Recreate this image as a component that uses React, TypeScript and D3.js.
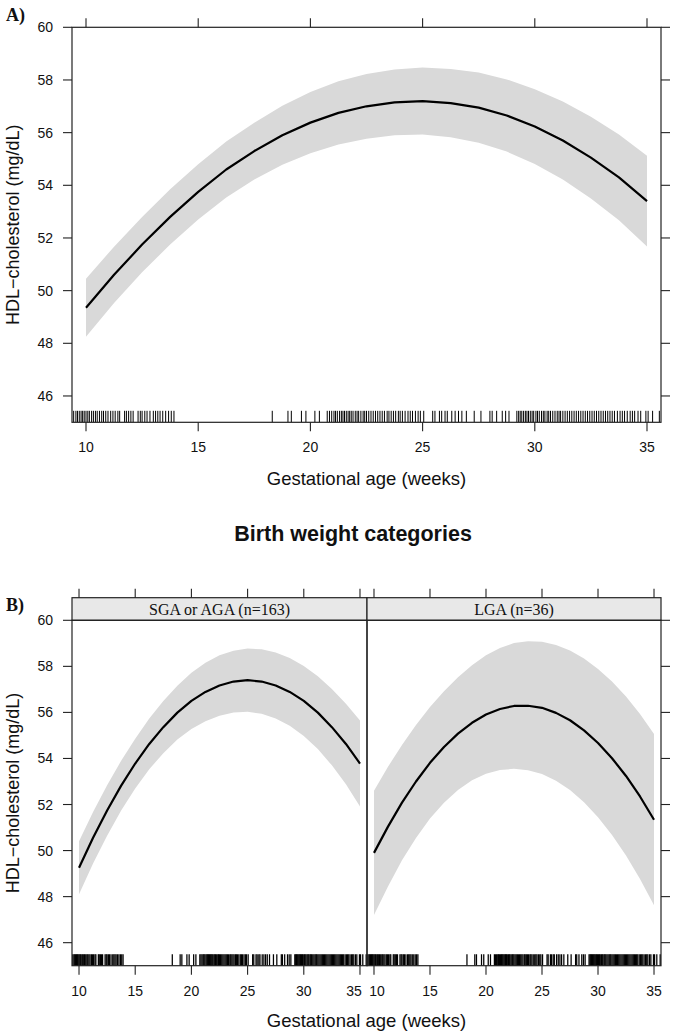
import React from 'react';
import * as d3 from 'd3';

const ageGrid = [10, 11.25, 12.5, 13.75, 15, 16.25, 17.5, 18.75, 20, 21.25, 22.5, 23.75, 25, 26.25, 27.5, 28.75, 30, 31.25, 32.5, 33.75, 35];

// Panel A: all subjects
const fitAll = [49.35, 50.6, 51.75, 52.8, 53.75, 54.6, 55.3, 55.9, 56.38, 56.75, 57.0, 57.15, 57.2, 57.12, 56.95, 56.65, 56.23, 55.7, 55.05, 54.3, 53.4];
const upAll = [50.45, 51.67, 52.8, 53.85, 54.8, 55.66, 56.38, 57.02, 57.54, 57.95, 58.23, 58.4, 58.47, 58.42, 58.28, 58.02, 57.65, 57.18, 56.6, 55.93, 55.12];
const loAll = [48.25, 49.53, 50.7, 51.75, 52.7, 53.54, 54.22, 54.78, 55.22, 55.55, 55.77, 55.9, 55.93, 55.82, 55.62, 55.28, 54.81, 54.22, 53.5, 52.67, 51.68];

// Panel B: SGA or AGA
const fitSGA = [49.25, 50.56, 51.74, 52.82, 53.78, 54.63, 55.36, 55.99, 56.5, 56.89, 57.17, 57.34, 57.4, 57.34, 57.17, 56.89, 56.5, 55.99, 55.36, 54.63, 53.78];
const upSGA = [50.4, 51.68, 52.84, 53.9, 54.86, 55.73, 56.49, 57.16, 57.72, 58.16, 58.48, 58.68, 58.77, 58.74, 58.6, 58.36, 58.02, 57.57, 57.02, 56.38, 55.65];
const loSGA = [48.1, 49.44, 50.64, 51.74, 52.7, 53.53, 54.23, 54.82, 55.28, 55.62, 55.86, 56.0, 56.03, 55.94, 55.74, 55.42, 54.98, 54.41, 53.7, 52.88, 51.91];

// Panel B: LGA
const fitLGA = [49.9, 51.04, 52.08, 53.0, 53.81, 54.5, 55.08, 55.55, 55.91, 56.15, 56.28, 56.29, 56.2, 55.98, 55.66, 55.22, 54.67, 54.01, 53.24, 52.35, 51.34];
const upLGA = [52.6, 53.64, 54.58, 55.45, 56.23, 56.92, 57.53, 58.05, 58.48, 58.8, 59.01, 59.09, 59.07, 58.93, 58.69, 58.34, 57.89, 57.34, 56.69, 55.93, 55.06];
const loLGA = [47.2, 48.44, 49.58, 50.55, 51.39, 52.08, 52.63, 53.05, 53.34, 53.5, 53.55, 53.49, 53.33, 53.03, 52.63, 52.1, 51.45, 50.68, 49.79, 48.77, 47.62];

const rugAges = [
  9.45, 9.55, 9.62, 9.7, 9.78, 9.85, 9.92, 10.0, 10.08, 10.15, 10.25, 10.33, 10.42, 10.5, 10.6, 10.7, 10.78, 10.88, 10.98, 11.1, 11.2, 11.3, 11.42, 11.5,
  11.72, 11.8, 11.9, 12.0, 12.1, 12.32, 12.42, 12.5, 12.62, 12.72, 12.85, 13.0, 13.1, 13.2, 13.3, 13.42, 13.55, 13.68, 13.8, 13.92,
  18.3, 19.0, 19.15, 19.6, 19.8, 20.2, 20.4,
  20.75, 20.85, 20.95, 21.05, 21.12, 21.2, 21.3, 21.38, 21.45, 21.52, 21.6, 21.68, 21.75, 21.82, 21.9, 22.0, 22.08, 22.15, 22.25, 22.35, 22.42, 22.5, 22.6, 22.7,
  22.8, 22.9, 23.0, 23.1, 23.2, 23.3, 23.42, 23.5, 23.6, 23.7, 23.8, 23.92, 24.0, 24.1, 24.22, 24.35, 24.45, 24.55, 24.68, 24.8, 24.9, 25.05,
  25.45, 25.55, 25.75, 25.85, 26.0, 26.1, 26.3, 26.45, 26.6, 26.75, 26.95, 27.3, 27.6, 28.0, 28.1, 28.3, 28.55, 28.7, 28.85,
  29.2, 29.28, 29.35, 29.42, 29.5, 29.58, 29.65, 29.72, 29.8, 29.88, 29.95, 30.05, 30.12, 30.2, 30.3, 30.38, 30.45, 30.55, 30.62, 30.7, 30.8, 30.9,
  31.0, 31.08, 31.15, 31.25, 31.35, 31.45, 31.55, 31.65, 31.75, 31.85, 31.95, 32.05, 32.15, 32.25, 32.35, 32.45, 32.55, 32.65, 32.75, 32.85, 32.95,
  33.05, 33.15, 33.25, 33.35, 33.45, 33.55, 33.68, 33.8, 33.9, 34.0, 34.12, 34.25, 34.35, 34.45, 34.6, 34.72, 34.95, 35.05, 35.25, 35.55,
];

const xTicks = [10, 15, 20, 25, 30, 35];
const yTicks = [46, 48, 50, 52, 54, 56, 58, 60];
const stripLabels = ['SGA or AGA (n=163)', 'LGA (n=36)'];
const xDomain: [number, number] = [9.376, 35.624];
const yDomain: [number, number] = [45, 60];

const SANS = '"Liberation Sans", Arial, Helvetica, sans-serif';
const SERIF = '"Liberation Serif", "Times New Roman", serif';
const AX = '#222';
const BAND = '#d9d9d9';
const TICK = 9;

type PanelProps = {
  x0: number; x1: number; y0: number; y1: number;
  fit: number[]; lo: number[]; hi: number[];
  id: string; rugW: number; labelShift?: (t: number) => number;
};

function PanelContent({ x0, x1, y0, y1, fit, lo, hi, id, rugW, labelShift }: PanelProps) {
  const x = d3.scaleLinear().domain(xDomain).range([x0, x1]);
  const y = d3.scaleLinear().domain(yDomain).range([y1, y0]);
  const idx = d3.range(ageGrid.length);
  const area = d3.area<number>().x(i => x(ageGrid[i])).y0(i => y(lo[i])).y1(i => y(hi[i]));
  const line = d3.line<number>().x(i => x(ageGrid[i])).y(i => y(fit[i]));
  return (
    <g>
      <clipPath id={id}><rect x={x0} y={y0} width={x1 - x0} height={y1 - y0} /></clipPath>
      <g clipPath={`url(#${id})`}>
        <path d={area(idx) || ''} fill={BAND} stroke="none" />
        <path d={line(idx) || ''} fill="none" stroke="#000" strokeWidth={2.2} strokeLinejoin="round" />
        {rugAges.map((a, k) => (
          <line key={k} x1={x(a)} x2={x(a)} y1={y1} y2={y1 - 11.5} stroke="#000" strokeWidth={rugW} />
        ))}
      </g>
      {xTicks.map(t => (
        <g key={t}>
          <line x1={x(t)} x2={x(t)} y1={y1} y2={y1 + TICK} stroke={AX} strokeWidth={1.1} />
          <text x={x(t) + (labelShift ? labelShift(t) : 0)} y={y1 + 30} textAnchor="middle" fontFamily={SANS} fontSize={14} fill="#111">{t}</text>
        </g>
      ))}
    </g>
  );
}

export default function App() {
  const W = 675, H = 1035;
  // Panel A geometry
  const aL = 72, aR = 661, aT = 27.3, aB = 422.3;
  // Panel B geometry
  const bL = 72, bM = 367, bR = 661, bS = 597.7, bT = 620.3, bB = 965.7;

  const yA = d3.scaleLinear().domain(yDomain).range([aB, aT]);
  const yB = d3.scaleLinear().domain(yDomain).range([bB, bT]);
  const xA = d3.scaleLinear().domain(xDomain).range([aL, aR]);
  const xB1 = d3.scaleLinear().domain(xDomain).range([bL, bM]);
  const xB2 = d3.scaleLinear().domain(xDomain).range([bM, bR]);

  return (
    <svg width={W} height={H} viewBox={`0 0 ${W} ${H}`} style={{ position: 'absolute', left: 0, top: 0, background: '#fff' }}>
      <rect x={0} y={0} width={W} height={H} fill="#fff" />

      {/* Panel A */}
      <text x={6} y={21} fontFamily={SERIF} fontWeight="bold" fontSize={18} fill="#111">A)</text>
      <PanelContent x0={aL} x1={aR} y0={aT} y1={aB} fit={fitAll} lo={loAll} hi={upAll} id="clipA" rugW={1.0} />
      <rect x={aL} y={aT} width={aR - aL} height={aB - aT} fill="none" stroke={AX} strokeWidth={1.2} />
      {xTicks.map(t => (
        <line key={'ta' + t} x1={xA(t)} x2={xA(t)} y1={aT} y2={aT - TICK} stroke={AX} strokeWidth={1.1} />
      ))}
      {yTicks.map(t => (
        <g key={'ya' + t}>
          <line x1={aL} x2={aL - TICK} y1={yA(t)} y2={yA(t)} stroke={AX} strokeWidth={1.1} />
          <line x1={aR} x2={aR + TICK} y1={yA(t)} y2={yA(t)} stroke={AX} strokeWidth={1.1} />
          <text x={53} y={yA(t) + 5} textAnchor="end" fontFamily={SANS} fontSize={14} fill="#111">{t}</text>
        </g>
      ))}
      <text transform={`translate(18.5,${(aT + aB) / 2}) rotate(-90)`} textAnchor="middle" fontFamily={SANS} fontSize={18} fill="#111">HDL−cholesterol (mg/dL)</text>
      <text x={(aL + aR) / 2} y={485} textAnchor="middle" fontFamily={SANS} fontSize={18.5} fill="#111">Gestational age (weeks)</text>

      {/* Middle title */}
      <text x={353} y={541} textAnchor="middle" fontFamily={SANS} fontWeight="bold" fontSize={21.5} fill="#111">Birth weight categories</text>

      {/* Panel B */}
      <text x={6} y={611} fontFamily={SERIF} fontWeight="bold" fontSize={18} fill="#111">B)</text>
      <PanelContent x0={bL} x1={bM} y0={bT} y1={bB} fit={fitSGA} lo={loSGA} hi={upSGA} id="clipB1" rugW={1.25}
        labelShift={t => (t === 35 ? -6 : 0)} />
      <PanelContent x0={bM} x1={bR} y0={bT} y1={bB} fit={fitLGA} lo={loLGA} hi={upLGA} id="clipB2" rugW={1.25}
        labelShift={t => (t === 10 ? 3 : 0)} />
      {[[bL, bM], [bM, bR]].map(([l, r], k) => (
        <g key={'strip' + k}>
          <rect x={l} y={bS} width={r - l} height={bT - bS} fill="#e8e8e8" stroke={AX} strokeWidth={1.2} />
          <text x={(l + r) / 2} y={bT - 5.5} textAnchor="middle" fontFamily={SERIF} fontSize={16} fill="#111">{stripLabels[k]}</text>
          <rect x={l} y={bT} width={r - l} height={bB - bT} fill="none" stroke={AX} strokeWidth={1.2} />
        </g>
      ))}
      {[xB1, xB2].map((xs, k) => xTicks.map(t => (
        <line key={'tb' + k + t} x1={xs(t)} x2={xs(t)} y1={bS} y2={bS - TICK} stroke={AX} strokeWidth={1.1} />
      )))}
      {yTicks.map(t => (
        <g key={'yb' + t}>
          <line x1={bL} x2={bL - TICK} y1={yB(t)} y2={yB(t)} stroke={AX} strokeWidth={1.1} />
          <line x1={bR} x2={bR + TICK} y1={yB(t)} y2={yB(t)} stroke={AX} strokeWidth={1.1} />
          <text x={53} y={yB(t) + 5} textAnchor="end" fontFamily={SANS} fontSize={14} fill="#111">{t}</text>
        </g>
      ))}
      <text transform={`translate(18.5,${(bT + bB) / 2}) rotate(-90)`} textAnchor="middle" fontFamily={SANS} fontSize={18} fill="#111">HDL−cholesterol (mg/dL)</text>
      <text x={(bL + bR) / 2} y={1027} textAnchor="middle" fontFamily={SANS} fontSize={18.5} fill="#111">Gestational age (weeks)</text>
    </svg>
  );
}
